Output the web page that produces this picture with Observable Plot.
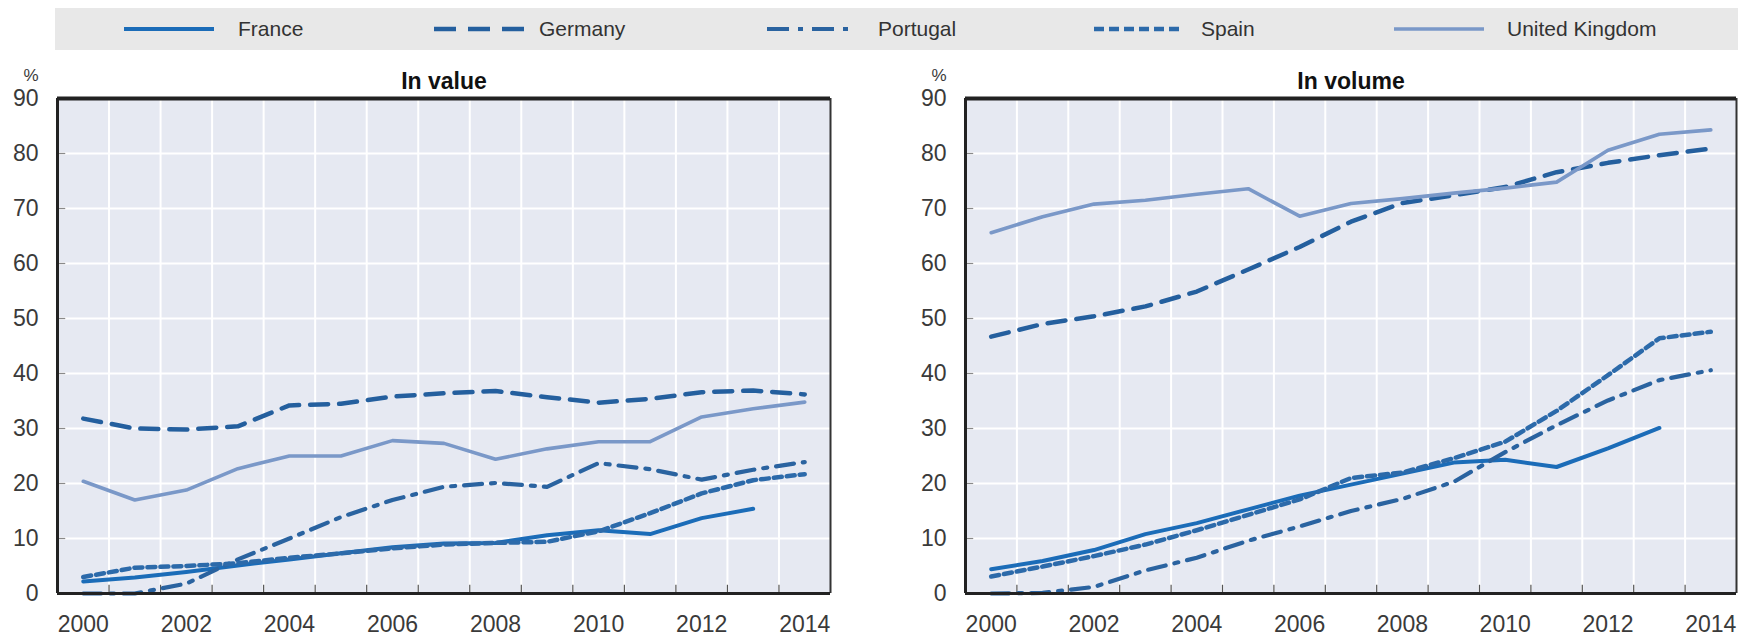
<!DOCTYPE html>
<html>
<head>
<meta charset="utf-8">
<script src="https://cdn.jsdelivr.net/npm/d3@7"></script>
<script src="https://cdn.jsdelivr.net/npm/@observablehq/plot@0.6"></script>
<style>
  html, body { margin: 0; padding: 0; background: #fff; overflow: hidden; }
  #root { position: relative; width: 1738px; height: 638px; overflow: hidden; font-family: "Liberation Sans", Arial, sans-serif; }
  #legendbar { position: absolute; left: 55px; top: 8px; width: 1683px; height: 42px; background: #e8e8e8; }
  .lg-text { position: absolute; top: 8px; height: 42px; line-height: 42px; font-size: 21px; color: #333; white-space: nowrap; }
  .lg-swatch { position: absolute; top: 8px; height: 42px; }
  .panel { position: absolute; top: 0; max-width: none !important; }
</style>
</head>
<body>
<div id="root"><div id="legendbar"></div></div>
<script>
// ---- data ----
const years = [2000, 2001, 2002, 2003, 2004, 2005, 2006, 2007, 2008, 2009, 2010, 2011, 2012, 2013, 2014];
const countries = ["France", "Germany", "Portugal", "Spain", "United Kingdom"];
const yTicks = [0, 10, 20, 30, 40, 50, 60, 70, 80, 90];
const xTickLabels = [2000, 2002, 2004, 2006, 2008, 2010, 2012, 2014];
const panelTitles = ["In value", "In volume"];

// In value (%)
const valueFrance   = [2.2, 2.9, 3.9, 5.1, 6.2, 7.3, 8.4, 9.1, 9.2, 10.6, 11.5, 10.8, 13.7, 15.4, null];
const valueGermany  = [31.8, 30.0, 29.8, 30.4, 34.2, 34.5, 35.8, 36.4, 36.8, 35.7, 34.7, 35.4, 36.6, 36.9, 36.2];
const valuePortugal = [0.0, 0.0, 1.8, 6.2, 10.0, 13.9, 17.0, 19.4, 20.1, 19.4, 23.7, 22.6, 20.7, 22.5, 23.9];
const valueSpain    = [3.0, 4.7, 5.0, 5.5, 6.5, 7.3, 8.2, 8.9, 9.2, 9.4, 11.3, 14.6, 18.2, 20.6, 21.7];
const valueUK       = [20.4, 17.0, 18.8, 22.7, 25.0, 25.0, 27.8, 27.3, 24.4, 26.3, 27.6, 27.6, 32.1, 33.6, 34.8];

// In volume (%)
const volumeFrance   = [4.4, 5.9, 7.9, 10.8, 12.8, 15.3, 17.8, 19.8, 21.8, 23.8, 24.3, 23.0, 26.4, 30.1, null];
const volumeGermany  = [46.7, 49.0, 50.4, 52.2, 54.9, 58.9, 63.0, 67.6, 71.0, 72.4, 73.9, 76.6, 78.3, 79.7, 80.9];
const volumePortugal = [0.0, 0.1, 1.2, 4.2, 6.5, 9.6, 12.2, 15.0, 17.2, 20.3, 25.7, 30.6, 35.1, 38.8, 40.6];
const volumeSpain    = [3.1, 4.9, 6.8, 8.9, 11.5, 14.3, 17.1, 21.0, 22.0, 24.6, 27.6, 33.2, 39.7, 46.4, 47.6];
const volumeUK       = [65.6, 68.5, 70.8, 71.5, 72.6, 73.6, 68.6, 70.9, 71.8, 72.8, 73.7, 74.8, 80.6, 83.5, 84.3];

const valueSeries  = [valueFrance, valueGermany, valuePortugal, valueSpain, valueUK];
const volumeSeries = [volumeFrance, volumeGermany, volumePortugal, volumeSpain, volumeUK];

// ---- styles ----
const colors = {
  "France": "#1b6cb8",
  "Germany": "#245f9e",
  "Portugal": "#2a63a0",
  "Spain": "#2c6aaa",
  "United Kingdom": "#7a98c8"
};
const dashes = {
  "France": null,
  "Germany": "18,11",
  "Portugal": "18,9,4,9",
  "Spain": "8,5",
  "United Kingdom": null
};
const widths = { "France": 4, "Germany": 4.5, "Portugal": 4.2, "Spain": 4.5, "United Kingdom": 3.6 };
const legendDashes = {
  "France": null,
  "Germany": "22,12",
  "Portugal": "22,9,5,9",
  "Spain": "10,5",
  "United Kingdom": null
};

const root = document.getElementById("root");

// ---- legend ----
const legendPos = [
  {sx: 123, tx: 238},
  {sx: 433, tx: 539},
  {sx: 766, tx: 878},
  {sx: 1093, tx: 1201},
  {sx: 1393, tx: 1507}
];
countries.forEach((c, i) => {
  const p = legendPos[i];
  const sw = document.createElementNS("http://www.w3.org/2000/svg", "svg");
  sw.setAttribute("class", "lg-swatch");
  sw.setAttribute("width", 92);
  sw.setAttribute("height", 42);
  sw.style.left = p.sx + "px";
  const ln = document.createElementNS("http://www.w3.org/2000/svg", "line");
  ln.setAttribute("x1", 1); ln.setAttribute("x2", 91);
  ln.setAttribute("y1", 21); ln.setAttribute("y2", 21);
  ln.setAttribute("stroke", colors[c]);
  ln.setAttribute("stroke-width", widths[c]);
  if (legendDashes[c]) ln.setAttribute("stroke-dasharray", legendDashes[c]);
  sw.appendChild(ln);
  root.appendChild(sw);
  const t = document.createElement("div");
  t.className = "lg-text";
  t.style.left = p.tx + "px";
  t.textContent = c;
  root.appendChild(t);
});

// ---- panels ----
const bandEdges = years.slice(0, -1).map(y => y + 0.5);

function buildRows(series) {
  const rows = [];
  countries.forEach((c, i) => {
    series[i].forEach((v, j) => {
      if (v != null) rows.push({country: c, year: years[j], value: v});
    });
  });
  return rows;
}

function panel(title, series, left, width, mL, mR) {
  const rows = buildRows(series);
  const chart = Plot.plot({
    width: width,
    height: 638,
    marginLeft: mL,
    marginRight: mR,
    marginTop: 98,
    marginBottom: 45,
    x: {domain: [years[0] - 0.5, years[years.length - 1] + 0.5]},
    y: {domain: [0, 90]},
    style: {fontFamily: "'Liberation Sans', Arial, sans-serif", fontSize: "23px", color: "#3a3a3a", background: "transparent", overflow: "visible"},
    marks: [
      Plot.frame({fill: "#e6e9f2"}),
      Plot.gridY(yTicks.slice(1, -1), {stroke: "#ffffff", strokeOpacity: 1, strokeWidth: 2}),
      Plot.gridX(bandEdges, {stroke: "#ffffff", strokeOpacity: 1, strokeWidth: 2}),
      Plot.ruleY(yTicks.slice(1, -1), {x1: years[0] - 0.5, x2: years[0] - 0.34, stroke: "#8a8a8a", strokeWidth: 1.2}),
      Plot.ruleX(bandEdges, {y1: 0, y2: 1.5, stroke: "#555", strokeWidth: 1.2}),
      ...countries.map(c => Plot.line(rows.filter(d => d.country === c), {
        x: "year", y: "value",
        stroke: colors[c],
        strokeWidth: widths[c],
        strokeDasharray: dashes[c] || undefined,
        strokeLinejoin: "round"
      })),
      Plot.axisY(yTicks, {tickSize: 0, tickPadding: 19, label: null, fontSize: 23}),
      Plot.axisX(xTickLabels, {tickSize: 0, tickPadding: 22, label: null, fontSize: 23, tickFormat: d => String(d)}),
      Plot.ruleX([years[0] - 0.5], {stroke: "#222", strokeWidth: 3}),
      Plot.ruleX([years[years.length - 1] + 0.5], {stroke: "#333", strokeWidth: 2}),
      Plot.ruleY([90], {stroke: "#222", strokeWidth: 4}),
      Plot.ruleY([0], {stroke: "#222", strokeWidth: 3}),
      Plot.text([title], {frameAnchor: "top", dy: -26, fontWeight: "bold", fontSize: 23, fill: "#111"}),
      Plot.text(["%"], {frameAnchor: "top-left", dx: -34, dy: -30, fontSize: 17, fill: "#3a3a3a"})
    ]
  });
  chart.classList.add("panel");
  chart.style.left = left + "px";
  chart.style.width = width + "px";
  chart.style.height = "638px";
  chart.style.maxWidth = "none";
  root.appendChild(chart);
}

panel(panelTitles[0], valueSeries, 0, 869, 57, 39);
panel(panelTitles[1], volumeSeries, 869, 869, 96, 2);
</script>
</body>
</html>
